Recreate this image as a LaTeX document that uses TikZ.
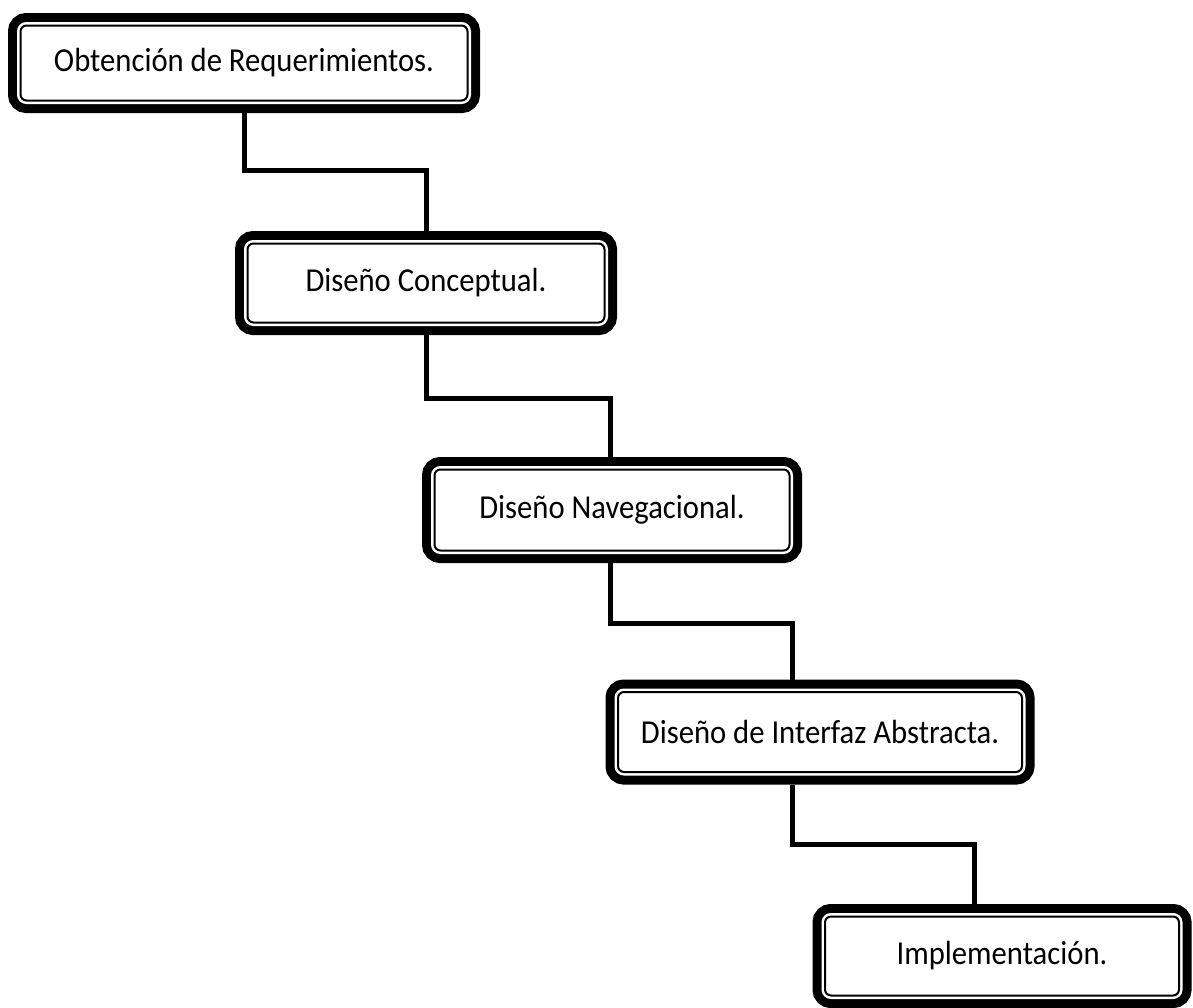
\documentclass[tikz,border=0pt]{standalone}
\usepackage{fontspec}
\setmainfont{Carlito}[FakeStretch=0.915]
\usepackage{tikz}
\usetikzlibrary{positioning}

\begin{document}
\begin{tikzpicture}[x=1pt,y=-1pt,
  etapa/.style={rounded corners=6pt, fill=white, draw, line width=2pt,
    preaction={draw, line width=25pt},
    preaction={draw=white, line width=7pt},
    outer sep=12.5pt, inner sep=0pt,
    font=\fontsize{33.5}{38}\selectfont},
  enlace/.style={line width=5pt, line join=miter}]
\useasboundingbox (0,0) rectangle (1193,1007);

\node [etapa, minimum width=447, minimum height=75] (req) at (244,63) {Obtención de Requerimientos.};
\node [etapa, minimum width=357, minimum height=79] (con) at (426,283) {Diseño Conceptual.};
\node [etapa, minimum width=355, minimum height=81] (nav) at (612,510) {Diseño Navegacional.};
\node [etapa, minimum width=404, minimum height=80] (int) at (820,732) {Diseño de Interfaz Abstracta.};
\node [etapa, minimum width=354, minimum height=79] (imp) at (1002,956) {Implementación.};

\draw [enlace] (req.south) -- ++(0,57) -| (con.north);
\draw [enlace] (con.south) -- ++(0,63) -| ([xshift=-2]nav.north);
\draw [enlace] ([xshift=-2]nav.south) -- ++(0,60) -| ([xshift=-28]int.north);
\draw [enlace] ([xshift=-28]int.south) -- ++(0,60) -| ([xshift=-28]imp.north);
\end{tikzpicture}
\end{document}
